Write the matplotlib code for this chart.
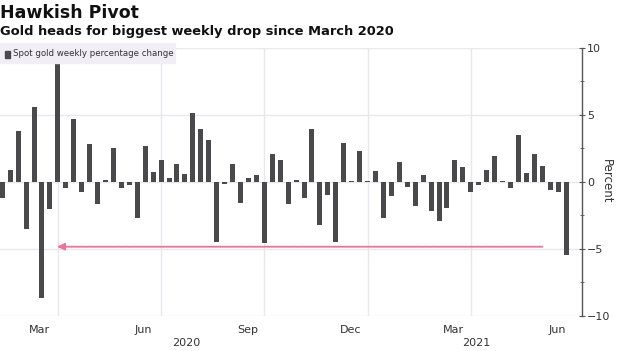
import matplotlib
matplotlib.use("Agg")
import matplotlib.pyplot as plt
from matplotlib.patches import Rectangle
from matplotlib.ticker import MultipleLocator
import pandas as pd

# weekly spot gold % change, Fridays from 7 Feb 2020 to 18 Jun 2021
first_week = "2020-02-07"
weekly_change = [
    -1.2, 0.9, 3.8, -3.55, 5.6, -8.7, -2.05, 8.75, -0.45, 4.7,
    -0.8, 2.8, -1.7, 0.1, 2.5, -0.5, -0.25, -2.7, 2.7, 0.7,
    1.6, 0.25, 1.3, 0.6, 5.1, 3.9, 3.1, -4.5, -0.2, 1.3,
    -1.6, 0.3, 0.5, -4.6, 2.1, 1.6, -1.7, 0.1, -1.25, 3.9,
    -3.25, -1.0, -4.5, 2.9, 0.03, 2.3, 0.05, 0.8, -2.7, -1.1,
    1.5, -0.4, -1.8, 0.5, -2.2, -2.9, -1.95, 1.6, 1.1, -0.75,
    -0.25, 0.9, 1.9, 0.02, -0.45, 3.5, 0.65, 2.1, 1.2, -0.6,
    -0.75, -5.45,
]
weeks = pd.date_range(first_week, periods=len(weekly_change), freq="7D")

month_labels = ["Mar", "Jun", "Sep", "Dec", "Mar", "Jun"]
month_label_dates = ["2020-03-11", "2020-06-10", "2020-09-10", "2020-12-10",
                     "2021-03-11", "2021-06-10"]
grid_dates = ["2020-03-27", "2020-06-26", "2020-09-25", "2020-12-25", "2021-03-26"]
years = ["2020", "2021"]
year_label_dates = ["2020-07-18", "2021-03-31"]

arrow_from = "2021-05-28"
arrow_to = "2020-03-26"
arrow_level = -4.85

x_start, x_end = "2020-02-05", "2021-07-02"

BAR = "#4a4a4c"
GRID = "#e8e7ee"
TXT = "#333333"

fig = plt.figure(figsize=(6.2, 3.51), dpi=100)
ax = fig.add_axes([0, 35.3 / 351, 582 / 620, 268 / 351])

ax.bar(weeks, weekly_change, width=4.4, color=BAR, zorder=3)

ax.set_xlim(pd.Timestamp(x_start), pd.Timestamp(x_end))
ax.set_ylim(-10, 10)

for s in ["top", "left", "bottom"]:
    ax.spines[s].set_visible(False)
ax.spines["right"].set_color("#555555")
ax.spines["right"].set_linewidth(1.0)

ax.yaxis.tick_right()
ax.yaxis.set_major_locator(MultipleLocator(5))
ax.yaxis.set_minor_locator(MultipleLocator(2.5))
ax.tick_params(axis="y", which="major", direction="inout", length=5, width=0.8,
               colors="#555555", labelcolor=TXT, labelsize=8, pad=1)
ax.tick_params(axis="y", which="minor", direction="inout", length=3, width=0.6,
               colors="#555555")
ax.yaxis.set_label_position("right")
ax.set_ylabel("Percent", rotation=270, fontsize=8.5, color=TXT, labelpad=4)
ax.yaxis.set_label_coords(1.053, 0.5)
ax.grid(axis="y", which="major", color=GRID, lw=1, zorder=0)

ax.set_xticks(pd.to_datetime(month_label_dates))
ax.set_xticklabels(month_labels)
ax.set_xticks(pd.to_datetime(grid_dates), minor=True)
ax.tick_params(axis="x", which="both", length=0, labelsize=8, labelcolor=TXT, pad=7)
ax.grid(axis="x", which="minor", color=GRID, lw=1, zorder=0)

for yr, d in zip(years, year_label_dates):
    ax.text(pd.Timestamp(d), -0.1, yr, transform=ax.get_xaxis_transform(),
            ha="center", va="center", fontsize=8, color=TXT)

ax.annotate("", xy=(pd.Timestamp(arrow_to), arrow_level),
            xytext=(pd.Timestamp(arrow_from), arrow_level),
            arrowprops=dict(arrowstyle="-|>,head_length=0.45,head_width=0.2",
                            color="#e8769a", lw=1.3, linestyle=(0, (1, 0.5)),
                            shrinkA=0, shrinkB=0), zorder=4)

# legend box
fig.patches.append(Rectangle((0, 1 - 63 / 351), 175 / 620, 20.5 / 351,
                             transform=fig.transFigure, color="#f1eff5", zorder=0))
fig.patches.append(Rectangle((4.5 / 620, 1 - 57.5 / 351), 5.5 / 620, 7 / 351,
                             transform=fig.transFigure, color=BAR, zorder=1))
fig.text(13 / 620, 1 - 54 / 351, "Spot gold weekly percentage change",
         fontsize=6.2, color=TXT, va="center", ha="left")

fig.text(0, 1 - 17.5 / 351, "Hawkish Pivot", fontsize=12.5, fontweight="bold",
         color="#111111", va="baseline", ha="left")
fig.text(0, 1 - 35 / 351, "Gold heads for biggest weekly drop since March 2020",
         fontsize=9.4, fontweight="bold", color="#111111", va="baseline", ha="left")

fig.savefig("out.png", dpi=100, facecolor="white")
